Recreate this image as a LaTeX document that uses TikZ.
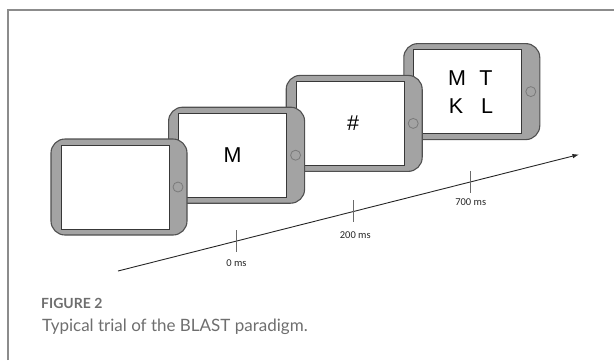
\documentclass[tikz,border=0pt]{standalone}
\usepackage{fontspec}
\setmainfont{Liberation Sans}
\newfontfamily\capfont{Lato}
\newfontfamily\tickfont{Carlito}
\usetikzlibrary{arrows.meta,calc}
\definecolor{bodygray}{HTML}{A3A3A3}
\definecolor{edgegray}{HTML}{505050}
\definecolor{scredge}{HTML}{383838}
\definecolor{btngray}{HTML}{7A7A7A}
\definecolor{framegray}{HTML}{8C8C8C}
\definecolor{capgray}{HTML}{6E6E6E}
\definecolor{tickgray}{HTML}{6A6A6A}
\newcommand\tabletdraw[2]{%
  \node[tabbody] (#1) at (#2) {};
  \node[tabscreen] (#1s) at ($(#1)+(-4,0)$) {};
  \node[tabbutton] (#1b) at ($(#1)+(59,0)$) {};
}
\begin{document}
\begin{tikzpicture}[x=1pt,y=-1pt,
  tabbody/.style={rectangle, rounded corners=14pt, minimum width=136pt, minimum height=96pt, inner sep=0pt, fill=bodygray, draw=edgegray, line width=1.1pt},
  tabscreen/.style={rectangle, minimum width=108pt, minimum height=84pt, inner sep=0pt, fill=white, draw=scredge, line width=1pt},
  tabbutton/.style={circle, minimum size=10pt, inner sep=0pt, fill=bodygray, draw=btngray, line width=0.8pt},
  letter/.style={inner sep=0pt, font=\fontsize{21.5}{24}\selectfont, text=black},
  axis/.style={draw=black!85, line width=0.9pt, -{Latex[length=6.5pt,width=4.5pt]}},
  tick/.style={draw=tickgray, line width=0.9pt},
  ticklabel/.style={inner sep=0pt, font=\tickfont\fontsize{10.5}{12}\selectfont, text=black!85},
  framel/.style={draw=framegray, line width=2pt}
]
\useasboundingbox (0,0) rectangle (614,360);
\draw[framel] (7.5,360) -- (7.5,9.5) -- (614,9.5);
% tablets, latest drawn first
\tabletdraw{t4}{471.8,91.6}
\tabletdraw{t3}{354.2,123.4}
\tabletdraw{t2}{236.6,155.2}
\tabletdraw{t1}{119,187}
% screen contents
\node[letter] (lm) at (t2s) {M};
\node[letter] (lhash) at ($(t3s)+(3,0)$) {\#};
\node[letter] (qm) at (457,78) {M};
\node[letter] (qt) at (486,78) {T};
\node[letter] (qk) at (456,106) {K};
\node[letter] (ql) at (487,106) {L};
% timeline
\coordinate (tstart) at (118,271);
\coordinate (tend) at (579,154.5);
\draw[axis] (tstart) -- (tend);
\path (tstart) -- (tend) coordinate[pos=0.2569] (m0) coordinate[pos=0.5115] (m1) coordinate[pos=0.7641] (m2);
\draw[tick] ($(m0)+(0,-11)$) -- ($(m0)+(0,11)$);
\draw[tick] ($(m1)+(0,-11)$) -- ($(m1)+(0,11)$);
\draw[tick] ($(m2)+(0,-11)$) -- ($(m2)+(0,11)$);
\node[ticklabel] (l0) at ($(m0)+(0,22)$) {0 ms};
\node[ticklabel] (l1) at ($(m1)+(1.5,23.5)$) {200 ms};
\node[ticklabel] (l2) at ($(m2)+(0.5,20)$) {700 ms};
% caption
\node[anchor=west, inner sep=0pt, text=capgray, font=\capfont\bfseries\fontsize{14}{16}\selectfont] (figlab) at (41,303) {FIGURE 2};
\node[anchor=base west, inner sep=0pt, text=capgray, font=\capfont\fontsize{17}{20}\selectfont] (figcap) at (42,331) {Typical trial of the BLAST paradigm.};
\end{tikzpicture}
\end{document}
